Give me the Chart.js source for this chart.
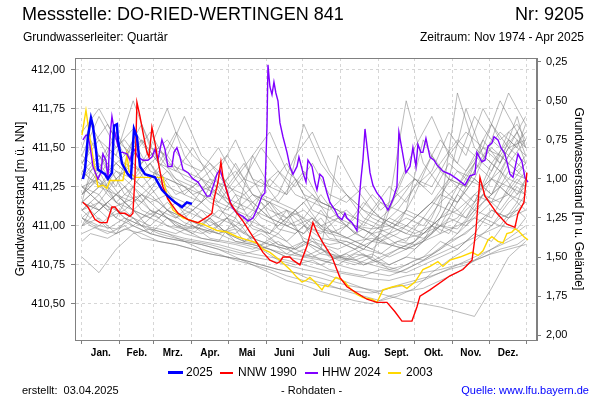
<!DOCTYPE html>
<html>
<head>
<meta charset="utf-8">
<script src="https://cdn.jsdelivr.net/npm/chart.js@4.4.1/dist/chart.umd.min.js"></script>
<style>
  body { margin: 0; background: #fff; }
  #wrap { position: relative; width: 600px; height: 400px; font-family: "Liberation Sans", Arial, sans-serif; color: #000; }
  #wrap canvas { position: absolute; left: 0; top: 0; }
  .t { position: absolute; white-space: pre; line-height: 1; }
  .lg { position: absolute; }
</style>
</head>
<body>
<div id="wrap">
  <canvas id="gwChart" width="600" height="400"></canvas>
  <div class="t" style="left:22px;top:5px;font-size:18px;">Messstelle: DO-RIED-WERTINGEN 841</div>
  <div class="t" style="right:16px;top:5px;font-size:18px;">Nr: 9205</div>
  <div class="t" style="left:23px;top:31px;font-size:12px;">Grundwasserleiter: Quartär</div>
  <div class="t" style="right:16px;top:31px;font-size:12px;">Zeitraum: Nov 1974 - Apr 2025</div>

  <div class="lg" style="left:168px;top:371px;width:15px;height:3px;background:#0000ff;"></div>
  <div class="t" style="left:186px;top:366px;font-size:12px;">2025</div>
  <div class="lg" style="left:220px;top:372px;width:13px;height:2px;background:#ff0000;"></div>
  <div class="t" style="left:238px;top:366px;font-size:12px;">NNW 1990</div>
  <div class="lg" style="left:305px;top:372px;width:13px;height:2px;background:#8000ff;"></div>
  <div class="t" style="left:322px;top:366px;font-size:12px;">HHW 2024</div>
  <div class="lg" style="left:388px;top:372px;width:13px;height:2px;background:#ffd800;"></div>
  <div class="t" style="left:406px;top:366px;font-size:12px;">2003</div>

  <div class="t" style="left:22px;top:385px;font-size:11px;">erstellt:  03.04.2025</div>
  <div class="t" style="left:281px;top:385px;font-size:11px;">- Rohdaten -</div>
  <div class="t" style="right:11px;top:385px;font-size:11px;color:#0000ff;">Quelle: www.lfu.bayern.de</div>
</div>
<script>
// x = day of year (0 = 1. Jan.)
const monthLabels = ['Jan.', 'Feb.', 'Mrz.', 'Apr.', 'Mai', 'Juni', 'Juli', 'Aug.', 'Sept.', 'Okt.', 'Nov.', 'Dez.'];
const monthStarts = [0, 31, 59, 90, 120, 151, 181, 212, 243, 273, 304, 334, 365];
const monthMids = [15.5, 45, 74.5, 105, 135.5, 166, 196.5, 227.5, 258, 288.5, 319, 349.5];
const levelTicks = [410.5, 410.75, 411.0, 411.25, 411.5, 411.75, 412.0];
const depthTicks = [0.25, 0.5, 0.75, 1.0, 1.25, 1.5, 1.75, 2.0];
const groundLevel = 412.30;

const days2025 = [0.8, 2.5, 4.9, 7.4, 9, 11.5, 13.1, 18.9, 21.3, 24.6, 26.3, 28.7, 29.5, 32.8, 37.7, 40.2, 42.7, 45.1, 47.6, 51.7, 59.9, 65.6, 70.5, 76.3, 82, 86.1, 90.2];
const level2025 = [411.30, 411.36, 411.57, 411.69, 411.64, 411.49, 411.36, 411.33, 411.30, 411.34, 411.64, 411.65, 411.55, 411.40, 411.33, 411.31, 411.62, 411.57, 411.38, 411.33, 411.31, 411.23, 411.19, 411.15, 411.12, 411.15, 411.14];

const daysNNW1990 = [0.8, 4.9, 10.7, 14.8, 20.5, 24.6, 27.1, 31.2, 35.3, 39.4, 41.8, 43.5, 45.1, 47.6, 50, 53.3, 55, 57.4, 59.9, 62.3, 66.4, 70.5, 78.8, 87, 95.2, 99.3, 103.4, 106.6, 108.3, 111.6, 114, 115.7, 121.4, 127.2, 132.1, 137.8, 143.6, 148.5, 154.2, 160, 162.4, 164.9, 170.6, 173.1, 178.8, 184.6, 189.5, 192.8, 197.7, 205.1, 211.6, 217.4, 225.6, 233.8, 242, 250.2, 256.8, 262.5, 270.7, 274.8, 277.3, 285.5, 301.9, 312.5, 320, 323.2, 326.5, 330.6, 340.4, 348.6, 355.2, 357.7, 362.6, 365];
const levelNNW1990 = [411.15, 411.12, 411.04, 411.02, 411.02, 411.12, 411.12, 411.08, 411.08, 411.06, 411.08, 411.31, 411.79, 411.70, 411.60, 411.47, 411.44, 411.63, 411.53, 411.42, 411.25, 411.17, 411.08, 411.04, 411.02, 411.04, 411.06, 411.08, 411.17, 411.28, 411.41, 411.31, 411.15, 411.08, 411.03, 410.96, 410.89, 410.83, 410.78, 410.76, 410.77, 410.80, 410.80, 410.78, 410.75, 410.87, 411.02, 410.96, 410.89, 410.80, 410.67, 410.61, 410.57, 410.53, 410.51, 410.51, 410.45, 410.39, 410.39, 410.48, 410.55, 410.59, 410.68, 410.72, 410.78, 410.97, 411.31, 411.19, 411.08, 411.01, 410.99, 411.08, 411.15, 411.34];

const daysHHW2024 = [0.8, 3.3, 4.9, 6.6, 9.0, 13.1, 15.6, 17.2, 19.7, 21.3, 23.0, 24.6, 26.3, 29.5, 31.2, 33.6, 36.9, 39.4, 41.0, 42.7, 45.9, 50.0, 54.1, 57.4, 59.9, 62.3, 65.6, 68.1, 70.5, 73.8, 75.5, 77.9, 80.4, 82.9, 87.0, 91.1, 95.2, 99.3, 102.5, 105.0, 107.5, 110.7, 113.2, 115.7, 119.8, 123.1, 127.2, 132.1, 136.2, 140.3, 144.4, 147.7, 150.1, 151.8, 152.6, 154.2, 155.9, 157.5, 159.1, 160.8, 162.4, 164.9, 168.2, 170.6, 173.1, 176.4, 178.0, 181.3, 183.8, 185.4, 188.7, 191.1, 192.8, 195.2, 197.7, 201.0, 203.4, 207.5, 210.0, 213.3, 215.7, 217.4, 221.5, 225.6, 227.2, 228.9, 230.5, 232.2, 233.8, 236.3, 238.7, 242.0, 246.1, 251.0, 255.1, 258.4, 260.0, 262.5, 265.8, 269.1, 271.5, 274.0, 275.6, 278.1, 279.7, 282.2, 285.5, 288.8, 291.2, 296.1, 301.9, 307.6, 314.2, 318.3, 322.4, 324.0, 328.1, 330.6, 333.1, 336.3, 338.0, 341.3, 343.7, 347.0, 351.1, 353.6, 357.7, 361.0, 363.4, 365.9];
const levelHHW2024 = [411.55, 411.58, 411.58, 411.51, 411.38, 411.30, 411.34, 411.46, 411.42, 411.30, 411.57, 411.70, 411.62, 411.51, 411.47, 411.47, 411.46, 411.42, 411.47, 411.49, 411.44, 411.42, 411.42, 411.44, 411.49, 411.42, 411.55, 411.49, 411.38, 411.38, 411.47, 411.50, 411.44, 411.36, 411.34, 411.30, 411.28, 411.23, 411.19, 411.19, 411.25, 411.33, 411.36, 411.30, 411.20, 411.12, 411.08, 411.06, 411.03, 411.05, 411.12, 411.19, 411.21, 411.64, 412.03, 411.89, 411.84, 411.92, 411.85, 411.80, 411.66, 411.57, 411.47, 411.38, 411.33, 411.38, 411.44, 411.34, 411.28, 411.42, 411.38, 411.28, 411.23, 411.33, 411.31, 411.21, 411.15, 411.10, 411.06, 411.04, 411.08, 411.05, 411.02, 410.97, 411.15, 411.30, 411.42, 411.62, 411.51, 411.34, 411.26, 411.21, 411.17, 411.10, 411.17, 411.25, 411.60, 411.49, 411.34, 411.38, 411.50, 411.38, 411.52, 411.47, 411.47, 411.56, 411.44, 411.42, 411.39, 411.35, 411.33, 411.30, 411.26, 411.32, 411.33, 411.47, 411.41, 411.42, 411.51, 411.53, 411.57, 411.55, 411.50, 411.46, 411.33, 411.31, 411.46, 411.41, 411.31, 411.28];

const days2003 = [0, 3.3, 6.6, 10.7, 13.1, 17.2, 20.5, 23, 33.6, 35.3, 36.9, 38.6, 43.5, 66.4, 69.7, 74.7, 82.9, 91.1, 99.3, 110.7, 119, 127.2, 135.4, 143.6, 148.5, 154.2, 162.4, 170.6, 176.4, 180.5, 183.8, 187, 191.1, 196.9, 199.3, 201.8, 205.1, 208.4, 211.6, 215.7, 219.9, 225.6, 230.5, 237.9, 242, 244.5, 246.9, 255.1, 262.5, 266.6, 273.2, 279.7, 285.5, 292, 296.1, 301.9, 310.1, 320, 324.9, 329, 333.1, 336.3, 341.3, 345.4, 348.6, 352.7, 355.2, 357.7, 362.6, 365.9];
const level2003 = [411.58, 411.74, 411.56, 411.36, 411.25, 411.26, 411.24, 411.29, 411.29, 411.36, 411.46, 411.35, 411.31, 411.31, 411.20, 411.10, 411.05, 411.03, 411.01, 410.97, 410.96, 410.93, 410.91, 410.89, 410.85, 410.83, 410.78, 410.72, 410.67, 410.64, 410.65, 410.67, 410.64, 410.59, 410.62, 410.61, 410.64, 410.67, 410.66, 410.64, 410.60, 410.56, 410.54, 410.53, 410.51, 410.55, 410.59, 410.61, 410.62, 410.60, 410.64, 410.72, 410.74, 410.77, 410.74, 410.78, 410.80, 410.83, 410.81, 410.84, 410.91, 410.93, 410.90, 410.89, 410.95, 410.96, 410.98, 410.97, 410.93, 410.91];

// other years of the record (grey), sampled every 14 days on two offset grids
const grayDaysA = [0, 14, 28, 42, 56, 70, 84, 98, 112, 126, 140, 154, 168, 182, 196, 210, 224, 238, 252, 266, 280, 294, 308, 322, 336, 350, 364];
const grayDaysB = [0, 7, 21, 35, 49, 63, 77, 91, 105, 119, 133, 147, 161, 175, 189, 203, 217, 231, 245, 259, 273, 287, 301, 315, 329, 343, 357, 364];

const gray01 = [411.45, 411.70, 411.50, 411.62, 411.45, 411.55, 411.40, 411.35, 411.50, 411.30, 411.45, 411.25, 411.20, 411.35, 411.15, 411.10, 411.05, 411.20, 411.10, 411.35, 411.25, 411.40, 411.55, 411.45, 411.65, 411.50, 411.55];
const gray02 = [411.30, 411.40, 411.25, 411.55, 411.35, 411.30, 411.25, 411.20, 411.15, 411.30, 411.15, 411.05, 411.00, 410.95, 411.10, 410.95, 410.90, 410.85, 410.95, 410.90, 411.05, 410.95, 411.15, 411.30, 411.20, 411.45, 411.35];
const gray03 = [411.05, 410.98, 410.95, 411.00, 410.95, 410.92, 410.90, 410.85, 410.82, 410.78, 410.75, 410.72, 410.68, 410.65, 410.62, 410.60, 410.58, 410.57, 410.60, 410.62, 410.65, 410.70, 410.75, 410.80, 410.85, 410.90, 410.95];
const gray04 = [411.20, 411.35, 411.15, 411.25, 411.40, 411.20, 411.15, 411.10, 411.05, 411.20, 411.00, 410.95, 411.10, 410.90, 410.85, 410.80, 410.78, 410.82, 410.75, 410.80, 410.78, 410.85, 410.95, 411.05, 411.00, 411.15, 411.25];
const gray05 = [410.80, 410.70, 410.85, 410.95, 410.98, 410.95, 410.92, 410.90, 410.88, 410.85, 410.82, 410.80, 410.78, 410.75, 410.72, 410.70, 410.68, 410.66, 410.65, 410.68, 410.70, 410.72, 410.75, 410.78, 410.82, 410.85, 410.88];
const gray06 = [411.40, 411.55, 411.45, 411.80, 411.50, 411.45, 411.70, 411.45, 411.35, 411.55, 411.30, 411.25, 411.40, 411.20, 411.15, 411.10, 411.00, 410.98, 411.00, 411.10, 411.05, 411.20, 411.35, 411.30, 411.55, 411.45, 411.60];
const gray07 = [411.15, 411.10, 411.20, 411.10, 411.05, 411.15, 411.05, 411.00, 410.95, 410.98, 410.92, 410.88, 410.85, 410.90, 410.82, 410.80, 410.78, 410.75, 410.72, 410.75, 410.80, 410.90, 410.85, 410.95, 411.10, 411.05, 411.20];
const gray08 = [411.25, 411.30, 411.20, 411.15, 411.25, 411.10, 411.05, 411.15, 411.05, 411.00, 411.10, 411.30, 411.20, 411.65, 411.40, 411.25, 411.15, 411.05, 411.00, 410.95, 410.92, 411.00, 410.98, 411.10, 411.20, 411.30, 411.25];
const gray09 = [411.10, 411.20, 411.05, 411.00, 411.10, 411.00, 410.95, 410.92, 410.90, 411.05, 410.90, 410.85, 410.80, 410.85, 410.78, 410.75, 410.82, 410.80, 411.15, 411.80, 411.40, 411.25, 411.15, 411.30, 411.20, 411.40, 411.30];
const gray10 = [411.35, 411.25, 411.40, 411.30, 411.20, 411.30, 411.25, 411.15, 411.35, 411.20, 411.15, 411.05, 411.10, 411.00, 410.95, 411.05, 410.95, 410.90, 410.88, 410.92, 410.95, 411.05, 411.25, 411.15, 411.40, 411.30, 411.45];
const gray11 = [411.00, 411.05, 410.95, 411.10, 410.98, 410.95, 410.90, 410.88, 410.85, 410.80, 410.75, 410.70, 410.65, 410.62, 410.58, 410.55, 410.52, 410.50, 410.55, 410.58, 410.60, 410.65, 410.70, 410.78, 410.85, 410.92, 411.00];
const gray12 = [411.25, 411.15, 411.30, 411.20, 411.10, 411.05, 411.00, 410.98, 410.95, 410.90, 410.88, 410.85, 410.80, 410.78, 410.75, 410.80, 410.85, 410.78, 410.75, 410.80, 410.90, 411.10, 411.85, 411.50, 411.40, 411.55, 411.45];
const gray13 = [411.45, 411.35, 411.60, 411.40, 411.30, 411.45, 411.30, 411.25, 411.20, 411.40, 411.20, 411.15, 411.05, 411.10, 411.00, 410.95, 411.05, 411.00, 410.95, 411.00, 411.10, 411.20, 411.15, 411.35, 411.50, 411.40, 411.55];
const gray14 = [411.10, 411.15, 411.05, 411.25, 411.10, 411.05, 411.00, 411.10, 410.98, 410.95, 411.05, 410.95, 410.90, 411.00, 410.92, 410.90, 410.85, 410.95, 410.88, 410.85, 410.90, 410.95, 411.00, 411.05, 411.15, 411.20, 411.15];
const gray15 = [411.20, 411.30, 411.15, 411.10, 411.20, 411.10, 411.05, 411.00, 411.10, 411.05, 411.45, 411.60, 411.35, 411.25, 411.15, 411.10, 411.00, 410.95, 411.05, 411.00, 410.95, 411.05, 411.10, 411.20, 411.15, 411.35, 411.30];
const gray16 = [411.05, 411.00, 410.98, 411.05, 410.95, 410.92, 410.90, 410.88, 410.85, 410.82, 410.80, 410.78, 410.75, 410.72, 410.70, 410.66, 410.62, 410.58, 410.55, 410.52, 410.50, 410.48, 410.45, 410.42, 410.60, 410.80, 410.90];
const gray17 = [411.30, 411.45, 411.35, 411.30, 411.40, 411.25, 411.20, 411.30, 411.15, 411.10, 411.20, 411.10, 411.05, 411.15, 411.00, 411.05, 410.95, 411.10, 411.25, 411.15, 411.35, 411.55, 411.40, 411.70, 411.55, 411.85, 411.65];
const gray18 = [410.95, 411.00, 411.10, 411.00, 410.95, 411.05, 410.98, 410.92, 410.90, 410.88, 410.85, 410.90, 410.82, 410.80, 410.85, 410.78, 410.75, 410.80, 410.72, 410.70, 410.75, 410.80, 410.85, 410.95, 410.90, 411.05, 411.10];
const gray19 = [411.60, 411.75, 411.55, 411.45, 411.60, 411.40, 411.35, 411.30, 411.25, 411.35, 411.20, 411.15, 411.10, 411.05, 411.20, 411.05, 411.00, 410.95, 410.98, 411.05, 411.00, 411.15, 411.25, 411.45, 411.35, 411.60, 411.50];
const gray20 = [411.15, 411.25, 411.20, 411.30, 411.50, 411.75, 411.45, 411.30, 411.20, 411.15, 411.10, 411.05, 411.00, 411.05, 410.98, 410.95, 410.90, 410.92, 410.88, 410.85, 410.90, 411.00, 410.95, 411.10, 411.05, 411.25, 411.20];
const gray21 = [411.25, 411.20, 411.35, 411.25, 411.15, 411.20, 411.10, 411.05, 411.00, 411.10, 410.98, 410.95, 411.05, 410.92, 410.88, 410.85, 410.90, 410.85, 410.80, 410.85, 410.95, 411.00, 411.05, 411.20, 411.30, 411.20, 411.35];
const gray22 = [411.15, 411.10, 411.20, 411.10, 411.05, 411.00, 410.98, 410.95, 411.00, 410.90, 410.88, 410.85, 410.82, 410.90, 410.85, 411.45, 411.25, 411.10, 411.00, 410.95, 411.05, 411.00, 411.20, 411.10, 411.30, 411.25, 411.40];
const gray23 = [411.35, 411.45, 411.30, 411.40, 411.25, 411.35, 411.20, 411.15, 411.25, 411.10, 411.05, 411.15, 411.00, 410.95, 411.05, 410.90, 410.85, 410.90, 410.95, 411.10, 411.55, 411.35, 411.25, 411.40, 411.30, 411.50, 411.40];
const gray24 = [411.05, 411.15, 411.10, 411.05, 411.00, 411.10, 411.02, 410.98, 410.95, 411.00, 410.92, 410.88, 410.85, 410.80, 410.78, 410.75, 410.72, 410.70, 410.68, 410.72, 410.78, 410.85, 410.92, 411.00, 411.10, 411.05, 411.15];

const gray25 = [411.30, 411.55, 411.35, 411.45, 411.65, 411.40, 411.35, 411.50, 411.30, 411.25, 411.40, 411.20, 411.15, 411.30, 411.10, 411.05, 411.00, 411.15, 411.05, 411.00, 411.20, 411.45, 411.30, 411.25, 411.55, 411.40, 411.70, 411.50];
const gray26 = [411.20, 411.25, 411.40, 411.20, 411.15, 411.30, 411.15, 411.10, 411.20, 411.05, 411.00, 411.15, 410.98, 410.95, 411.05, 410.92, 410.90, 410.85, 410.95, 410.88, 410.85, 410.95, 411.15, 411.05, 411.25, 411.35, 411.20, 411.30];
const gray27 = [411.00, 411.10, 410.98, 411.05, 411.00, 410.95, 410.92, 410.90, 410.88, 410.85, 410.82, 410.85, 410.78, 410.75, 410.78, 410.72, 410.70, 410.68, 410.72, 410.70, 410.75, 410.80, 410.85, 410.90, 410.95, 411.05, 411.10, 411.05];
const gray28 = [411.40, 411.50, 411.65, 411.45, 411.55, 411.40, 411.60, 411.45, 411.35, 411.45, 411.30, 411.25, 411.35, 411.20, 411.15, 411.10, 411.20, 411.05, 411.00, 411.10, 411.05, 411.15, 411.30, 411.25, 411.45, 411.60, 411.50, 411.65];
const gray29 = [411.15, 411.20, 411.10, 411.15, 411.05, 411.10, 411.00, 410.98, 411.05, 410.95, 410.90, 410.95, 410.88, 410.85, 410.90, 410.82, 410.80, 410.85, 410.95, 411.25, 411.50, 411.70, 411.45, 411.35, 411.50, 411.40, 411.60, 411.45];
const gray30 = [410.90, 410.95, 410.92, 410.98, 410.95, 410.90, 410.88, 410.85, 410.82, 410.80, 410.78, 410.75, 410.72, 410.70, 410.68, 410.65, 410.62, 410.60, 410.58, 410.62, 410.65, 410.68, 410.72, 410.75, 410.80, 410.85, 410.88, 410.92];
const gray31 = [411.25, 411.20, 411.30, 411.15, 411.20, 411.10, 411.05, 411.10, 411.00, 411.05, 410.95, 411.10, 411.20, 411.45, 411.60, 411.35, 411.20, 411.10, 411.05, 411.00, 410.95, 411.00, 411.10, 411.05, 411.20, 411.15, 411.30, 411.25];
const gray32 = [411.50, 411.65, 411.45, 411.55, 411.40, 411.50, 411.35, 411.30, 411.40, 411.25, 411.20, 411.30, 411.15, 411.10, 411.20, 411.05, 411.10, 411.00, 411.15, 411.10, 411.25, 411.35, 411.60, 411.45, 411.75, 411.55, 411.65, 411.55];
const gray33 = [411.10, 411.05, 411.15, 411.25, 411.10, 411.05, 411.15, 411.00, 410.95, 411.05, 410.90, 410.88, 410.95, 410.85, 410.80, 410.85, 410.78, 410.75, 410.80, 410.85, 410.90, 411.00, 410.95, 411.10, 411.20, 411.10, 411.25, 411.20];
const gray34 = [411.35, 411.30, 411.45, 411.35, 411.25, 411.35, 411.20, 411.25, 411.15, 411.10, 411.20, 411.05, 411.00, 411.10, 410.98, 410.95, 411.00, 410.92, 411.05, 411.15, 411.30, 411.25, 411.45, 411.60, 411.50, 411.80, 411.60, 411.70];
const gray35 = [411.05, 411.00, 410.95, 411.00, 410.92, 410.90, 410.88, 410.85, 410.82, 410.80, 410.78, 410.75, 410.72, 410.70, 410.65, 410.62, 410.58, 410.55, 410.52, 410.55, 410.60, 410.70, 410.78, 410.85, 410.95, 411.00, 410.98, 411.05];
const gray36 = [411.20, 411.30, 411.25, 411.35, 411.55, 411.40, 411.30, 411.20, 411.25, 411.15, 411.10, 411.20, 411.05, 411.00, 411.05, 410.95, 410.92, 410.98, 410.90, 410.95, 411.05, 411.15, 411.10, 411.30, 411.25, 411.45, 411.35, 411.40];
const gray37 = [411.15, 411.35, 411.20, 411.10, 411.20, 411.15, 411.05, 411.15, 411.30, 411.15, 411.05, 411.00, 410.95, 411.10, 410.92, 410.88, 410.90, 410.85, 410.82, 410.90, 410.88, 410.95, 411.05, 411.00, 411.15, 411.25, 411.15, 411.30];
const gray38 = [411.10, 411.15, 411.05, 411.10, 411.00, 410.98, 410.95, 411.00, 410.92, 410.90, 410.88, 410.85, 410.90, 410.82, 410.80, 410.78, 410.82, 410.75, 410.78, 410.85, 410.90, 411.05, 411.30, 411.75, 411.45, 411.35, 411.55, 411.40];
const gray39 = [411.40, 411.35, 411.50, 411.40, 411.35, 411.45, 411.30, 411.25, 411.35, 411.20, 411.30, 411.50, 411.35, 411.25, 411.40, 411.20, 411.15, 411.25, 411.10, 411.20, 411.30, 411.20, 411.40, 411.30, 411.50, 411.45, 411.60, 411.50];
const gray40 = [411.00, 411.05, 411.15, 411.05, 411.00, 411.10, 411.00, 410.95, 411.05, 410.95, 410.90, 410.98, 410.88, 410.85, 410.92, 410.80, 410.78, 410.82, 410.75, 410.72, 410.78, 410.82, 410.90, 410.95, 411.05, 411.00, 411.15, 411.10];

const grayYearsA = [gray01, gray02, gray03, gray04, gray05, gray06, gray07, gray08, gray09, gray10, gray11, gray12,
                    gray13, gray14, gray15, gray16, gray17, gray18, gray19, gray20, gray21, gray22, gray23, gray24];
const grayYearsB = [gray25, gray26, gray27, gray28, gray29, gray30, gray31, gray32, gray33, gray34, gray35, gray36,
                    gray37, gray38, gray39, gray40];

const toPoints = (xs, ys) => ys.map((y, i) => ({ x: xs[i], y: y }));
const fmt = v => Number(v).toFixed(2).replace('.', ',');
const xTicks = monthStarts.concat(monthMids).sort((a, b) => a - b);
const isStart = v => monthStarts.indexOf(v) >= 0;

const datasets = [
    { label: '2025', data: toPoints(days2025, level2025), borderColor: '#0000ff', borderWidth: 2.5 },
    { label: 'NNW 1990', data: toPoints(daysNNW1990, levelNNW1990), borderColor: '#ff0000', borderWidth: 1.4 },
    { label: 'HHW 2024', data: toPoints(daysHHW2024, levelHHW2024), borderColor: '#8000ff', borderWidth: 1.4 },
    { label: '2003', data: toPoints(days2003, level2003), borderColor: '#ffd800', borderWidth: 1.4 }
];
const grayStyle = { borderColor: 'rgba(120,120,120,0.5)', borderWidth: 1 };
grayYearsA.forEach((g, i) => datasets.push(Object.assign({ label: 'a' + i, data: toPoints(grayDaysA, g) }, grayStyle)));
grayYearsB.forEach((g, i) => datasets.push(Object.assign({ label: 'b' + i, data: toPoints(grayDaysB, g) }, grayStyle)));

const frame = {
    id: 'frame',
    afterDraw(chart) {
        const a = chart.chartArea, ctx = chart.ctx;
        ctx.save();
        ctx.strokeStyle = '#808080';
        ctx.lineWidth = 1;
        ctx.strokeRect(a.left + 0.5, a.top + 0.5, a.right - a.left - 1, a.bottom - a.top);
        ctx.restore();
    }
};

Chart.defaults.font.family = '"Liberation Sans", Arial, sans-serif';
Chart.defaults.color = '#000';

new Chart(document.getElementById('gwChart'), {
    type: 'line',
    data: { datasets: datasets },
    options: {
        responsive: false,
        animation: false,
        layout: { padding: { top: 58, bottom: 40, left: 0, right: 0 } },
        elements: { point: { radius: 0 }, line: { tension: 0 } },
        plugins: { legend: { display: false }, tooltip: { enabled: false } },
        scales: {
            x: {
                type: 'linear', min: -5.7, max: 373.3,
                afterBuildTicks: s => { s.ticks = xTicks.map(v => ({ value: v })); },
                afterFit: s => { s.height = 20; },
                grid: {
                    color: c => (c.tick && isStart(c.tick.value)) ? '#d6d6d6' : 'rgba(0,0,0,0)',
                    tickColor: c => (c.tick && isStart(c.tick.value)) ? '#808080' : 'rgba(0,0,0,0)',
                    tickLength: 4, tickBorderDash: []
                },
                border: { color: '#808080', dash: [3, 3] },
                ticks: {
                    autoSkip: false, maxRotation: 0, padding: 3,
                    font: { size: 10, weight: 'bold' },
                    callback: v => { const i = monthMids.indexOf(v); return i >= 0 ? monthLabels[i] : ''; }
                }
            },
            y: {
                position: 'left', min: 410.269, max: 412.074,
                afterBuildTicks: s => { s.ticks = levelTicks.map(v => ({ value: v })); },
                afterFit: s => { s.width = 75; },
                grid: { color: '#d6d6d6', tickColor: '#808080', tickLength: 4, tickBorderDash: [] },
                border: { color: '#808080', dash: [3, 3] },
                ticks: { padding: 6, font: { size: 11 }, callback: fmt },
                title: { display: true, text: 'Grundwasserstand [m ü. NN]', font: { size: 12 }, padding: { top: 13, bottom: 0 } }
            },
            y2: {
                position: 'right', reverse: true,
                min: groundLevel - 412.074, max: groundLevel - 410.269,
                afterBuildTicks: s => { s.ticks = depthTicks.map(v => ({ value: v })); },
                afterFit: s => { s.width = 63; },
                grid: { drawOnChartArea: false, tickColor: '#808080', tickLength: 4 },
                border: { color: '#808080' },
                ticks: { padding: 5, font: { size: 11 }, callback: fmt },
                title: { display: true, text: 'Grundwasserstand [m u. Gelände]', font: { size: 12 }, padding: { top: 14, bottom: 0 } }
            }
        }
    },
    plugins: [frame]
});
</script>
</body>
</html>
